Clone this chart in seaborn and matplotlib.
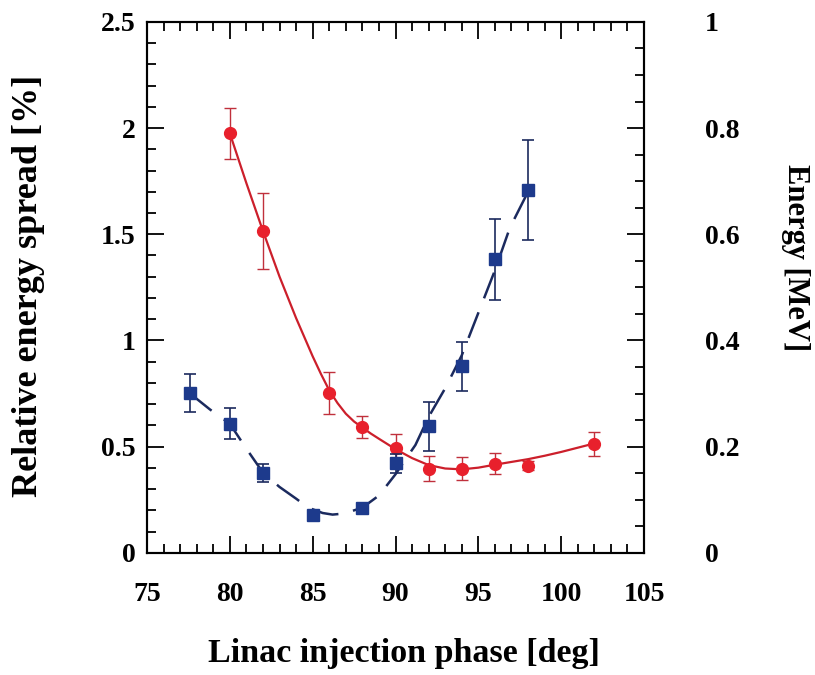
import numpy as np
import matplotlib
matplotlib.use("Agg")
import matplotlib.pyplot as plt
from matplotlib.ticker import MultipleLocator, FuncFormatter
import seaborn as sns

# STYLE SETTINGS
sns.set_style("ticks")
plt.rcParams['font.family'] = ['Liberation Serif', 'DejaVu Serif']
plt.rcParams['font.weight'] = 'bold'
for key in ['text.color', 'axes.labelcolor', 'xtick.color', 'ytick.color']:
    plt.rcParams[key] = 'black'

# DATA
# red circles: relative energy spread [%]
spread_phase = [80, 82, 86, 88, 90, 92, 94, 96, 98, 102]
spread_val = [1.975, 1.515, 0.752, 0.592, 0.493, 0.397, 0.397, 0.42, 0.41, 0.513]
spread_err = [0.12, 0.18, 0.10, 0.05, 0.065, 0.057, 0.054, 0.05, 0.022, 0.058]

# red fitted curve
spread_fit_phase = [80, 81, 82, 83, 84, 85, 85.5, 86, 86.5, 87, 87.5, 88, 88.5,
                    89, 90, 91, 92, 93, 94, 95, 96, 97, 98, 99, 100, 101, 102]
spread_fit_val = [1.975, 1.74, 1.515, 1.30, 1.105, 0.925, 0.842, 0.765, 0.705,
                  0.655, 0.618, 0.59, 0.562, 0.537, 0.488, 0.446, 0.413, 0.397,
                  0.393, 0.401, 0.415, 0.428, 0.441, 0.457, 0.475, 0.495, 0.515]

# blue squares: energy [MeV]
energy_phase = [77.6, 80, 82, 85, 88, 90, 92, 94, 96, 98]
energy_val = [0.301, 0.243, 0.150, 0.071, 0.084, 0.169, 0.238, 0.351, 0.553, 0.684]
energy_err = [0.036, 0.029, 0.017, 0.0, 0.0, 0.018, 0.046, 0.046, 0.076, 0.094]

# blue dashed curve
energy_fit_phase = [77.6, 78.8, 80, 81, 82, 83, 84, 84.6, 85, 85.6, 86.2, 86.9,
                    88, 89, 89.4, 90, 90.6, 91.2, 92, 93, 94, 95, 96, 96.9, 98]
energy_fit_val = [0.300, 0.270, 0.243, 0.196, 0.151, 0.124, 0.102, 0.088, 0.082,
                  0.075, 0.072, 0.074, 0.085, 0.108, 0.124, 0.148, 0.176, 0.203,
                  0.256, 0.31, 0.372, 0.452, 0.532, 0.612, 0.68]

red_line = '#cc1f2b'
red_mark = '#e8202c'
blue_mark = '#1d3a8c'
blue_line = '#1b2a5e'

fig = plt.figure(figsize=(8.15, 6.75), dpi=100)
ax = fig.add_axes([0.1804, 0.181, 0.6098, 0.7866])
ax2 = ax.twinx()

# red: spread
sns.lineplot(x=spread_fit_phase, y=spread_fit_val, ax=ax, color=red_line,
             linewidth=1.6, sort=False)
ax.errorbar(spread_phase, spread_val, yerr=spread_err, fmt='o', color=red_mark,
            ecolor='#c0303c', elinewidth=1.0, capsize=4.5, capthick=1.0,
            markersize=8.5, zorder=3)

# blue: energy
sns.lineplot(x=energy_fit_phase, y=energy_fit_val, ax=ax2, color=blue_line,
             linewidth=1.8, linestyle=(0, (11, 6)), sort=False)
ax2.errorbar(energy_phase, energy_val, yerr=energy_err, fmt='s', color=blue_mark,
             ecolor='#1b2a5e', elinewidth=1.2, capsize=4.5, capthick=1.2,
             markersize=8.5, zorder=3)

ax.set_xlim(75, 105)
ax.set_ylim(0, 2.5)
ax2.set_ylim(0, 1)

fmt = FuncFormatter(lambda v, p: '%g' % v)
ax.xaxis.set_major_locator(MultipleLocator(5))
ax.xaxis.set_minor_locator(MultipleLocator(1))
ax.yaxis.set_major_locator(MultipleLocator(0.5))
ax.yaxis.set_minor_locator(MultipleLocator(0.1))
ax.yaxis.set_major_formatter(fmt)
ax2.yaxis.set_major_locator(MultipleLocator(0.2))
ax2.yaxis.set_minor_locator(MultipleLocator(0.05))
ax2.yaxis.set_major_formatter(fmt)

ax.tick_params(which='both', direction='in', top=True, right=False,
               labelsize=20, width=1.3, color='black', labelcolor='black')
ax.tick_params(which='major', length=12)
ax.tick_params(which='minor', length=6.5)
ax.tick_params(axis='x', pad=21)
ax.tick_params(axis='y', pad=8)
ax2.tick_params(which='both', direction='in', labelsize=20, width=1.3,
                color='black', labelcolor='black')
ax2.tick_params(which='major', length=12, pad=44)
ax2.tick_params(which='minor', length=6.5)
for lab in ax.get_xticklabels() + ax.get_yticklabels() + ax2.get_yticklabels():
    lab.set_fontweight('bold')

for a in (ax, ax2):
    for s in a.spines.values():
        s.set_linewidth(1.5)
        s.set_color('black')

ax.set_xlabel("Linac injection phase [deg]", fontsize=24.5, fontweight='bold')
ax.set_ylabel("Relative energy spread [%]", fontsize=26, fontweight='bold')
ax2.set_ylabel("Energy [MeV]", fontsize=22, fontweight='bold', rotation=270)
ax.xaxis.set_label_coords(0.517, -0.16)
ax.yaxis.set_label_coords(-0.205, 0.503)
ax2.yaxis.set_label_coords(1.334, 0.557)

fig.savefig('out.png', dpi=100)
